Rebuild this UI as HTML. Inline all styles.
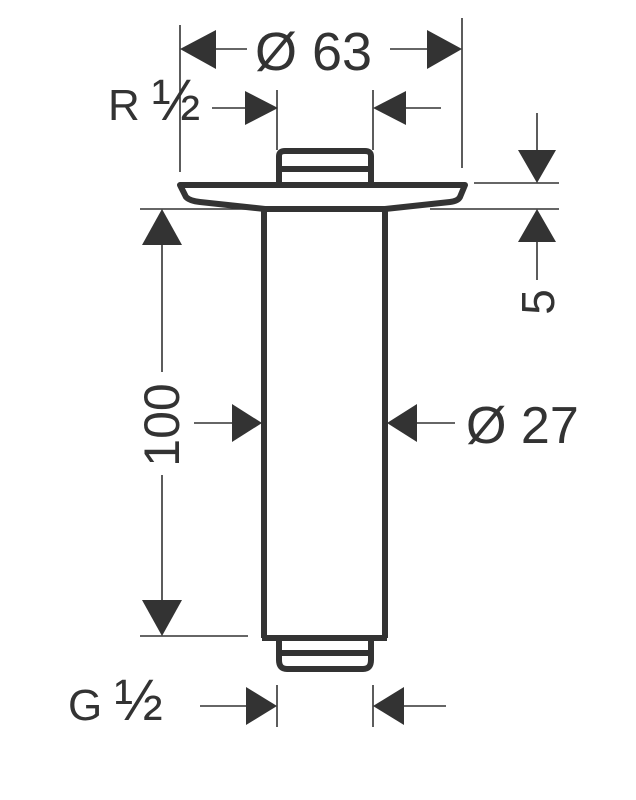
<!DOCTYPE html>
<html><head><style>
html,body{margin:0;padding:0;background:#fff;}
svg{display:block;}
text{font-family:"Liberation Sans",sans-serif;fill:#333;}
</style></head><body>
<svg width="636" height="800" viewBox="0 0 636 800">
<g stroke="#333" fill="none">
<g stroke-width="1.6">
<line x1="180" y1="25" x2="180" y2="172"/>
<line x1="462" y1="18" x2="462" y2="168"/>
<line x1="277" y1="90" x2="277" y2="150"/>
<line x1="373" y1="90" x2="373" y2="150"/>
<line x1="215" y1="49" x2="247" y2="49"/>
<line x1="390" y1="49" x2="430" y2="49"/>
<line x1="212" y1="108" x2="247" y2="108"/>
<line x1="405" y1="108" x2="441" y2="108"/>
<line x1="474" y1="183" x2="559" y2="183"/>
<line x1="430" y1="209" x2="559" y2="209"/>
<line x1="537" y1="113" x2="537" y2="152"/>
<line x1="537" y1="240" x2="537" y2="280"/>
<line x1="140" y1="209" x2="248" y2="209"/>
<line x1="140" y1="636" x2="248" y2="636"/>
<line x1="162" y1="240" x2="162" y2="372"/>
<line x1="162" y1="475" x2="162" y2="602"/>
<line x1="194" y1="423" x2="232" y2="423"/>
<line x1="416" y1="423" x2="455" y2="423"/>
<line x1="277" y1="685" x2="277" y2="727"/>
<line x1="373" y1="685" x2="373" y2="727"/>
<line x1="200" y1="706" x2="246" y2="706"/>
<line x1="404" y1="706" x2="446" y2="706"/>
</g>
<g stroke-width="6" stroke-linejoin="round">
<path d="M279 184 L279 156 Q279 151 285 151 L365 151 Q371 151 371 156 L371 184"/>
<line x1="281" y1="169" x2="369" y2="169"/>
<path d="M180 185 L465 185 L460 197 Q458 201 450 202 L385 209 L265 209 L200 202 Q190 201 186 197 Z"/>
<line x1="264" y1="209" x2="264" y2="638"/>
<line x1="385" y1="209" x2="385" y2="638"/>
<line x1="262" y1="638" x2="387" y2="638"/>
<path d="M279 638 L279 660 Q279 669 287 669 L363 669 Q371 669 371 660 L371 638"/>
<line x1="281" y1="653" x2="369" y2="653"/>
</g>
</g>
<g fill="#333">
<polygon points="180,49 216,30 216,69"/>
<polygon points="462,49 427,30 427,69"/>
<polygon points="278,108 245,91 245,125"/>
<polygon points="373,108 406,91 406,125"/>
<polygon points="537,183 518,150 556,150"/>
<polygon points="537,209 518,242 556,242"/>
<polygon points="162,209 142,245 182,245"/>
<polygon points="162,636 142,600 182,600"/>
<polygon points="262,423 232,404 232,442"/>
<polygon points="387,423 417,404 417,442"/>
<polygon points="277,706 246,687 246,725"/>
<polygon points="373,706 404,687 404,725"/>
</g>
<text x="255" y="70" font-size="54">Ø 63</text>
<text x="108" y="120" font-size="44">R <tspan font-size="58">½</tspan></text>
<text x="466" y="443" font-size="52">Ø 27</text>
<text x="68" y="720" font-size="44">G <tspan font-size="58">½</tspan></text>
<text transform="translate(554,302) rotate(-90)" font-size="46" text-anchor="middle">5</text>
<text transform="translate(179,425) rotate(-90)" font-size="50" text-anchor="middle">100</text>
</svg>
</body></html>
